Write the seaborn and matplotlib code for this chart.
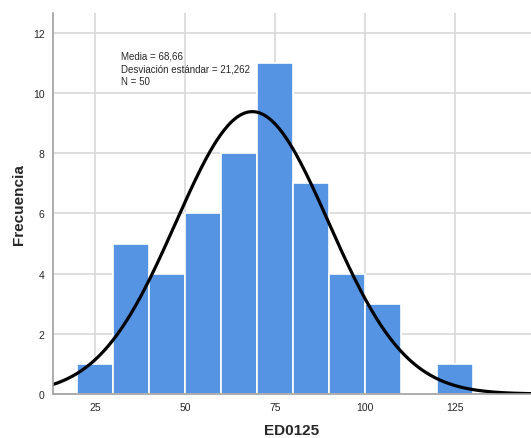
import numpy as np
import matplotlib
matplotlib.use("Agg")
import matplotlib.pyplot as plt
import seaborn as sns

# Histogram bins (width 10) and frequencies
bin_edges = [20, 30, 40, 50, 60, 70, 80, 90, 100, 110, 120, 130]
counts = [1, 5, 4, 6, 8, 11, 7, 4, 3, 0, 1]
media = 68.66
desv = 21.262
n = 50

mids = [(a + b) / 2 for a, b in zip(bin_edges[:-1], bin_edges[1:])]

sns.set_style("white")
plt.rcParams['font.family'] = ['Liberation Sans', 'DejaVu Sans']

fig = plt.figure(figsize=(5.31, 4.39), dpi=100)
ax = fig.add_axes([0.0998, 0.1002, 0.9002, 0.868])

ax.set_axisbelow(True)
ax.grid(True, color="#d9d9d9", linewidth=1.2)

sns.histplot(x=mids, weights=counts, bins=bin_edges, ax=ax,
             color="#5594e3", alpha=1, edgecolor="white", linewidth=1.2)

# Normal curve scaled to the histogram
xs = np.linspace(13.3, 146.1, 400)
width = bin_edges[1] - bin_edges[0]
ys = n * width / (desv * np.sqrt(2 * np.pi)) * np.exp(-0.5 * ((xs - media) / desv) ** 2)
ax.plot(xs, ys, color="black", linewidth=2.3)

ax.set_xlim(13.3, 146.1)
ax.set_ylim(0, 12.66)
ax.set_xticks([25, 50, 75, 100, 125])
ax.set_yticks([0, 2, 4, 6, 8, 10, 12])
ax.tick_params(labelsize=7.5, length=0, pad=6)

for s in ["top", "right"]:
    ax.spines[s].set_visible(False)
for s in ["left", "bottom"]:
    ax.spines[s].set_color("#a0a0a0")
    ax.spines[s].set_linewidth(1.2)

ax.set_xlabel("ED0125", fontsize=11, fontweight="bold", labelpad=8)
ax.set_ylabel("Frecuencia", fontsize=11, fontweight="bold", labelpad=5)

ax.text(32.2, 11.4, "Media = 68,66\nDesviación estándar = 21,262\nN = 50",
        fontsize=7, va="top", ha="left", linespacing=1.3)

fig.savefig("out.png", dpi=100)
